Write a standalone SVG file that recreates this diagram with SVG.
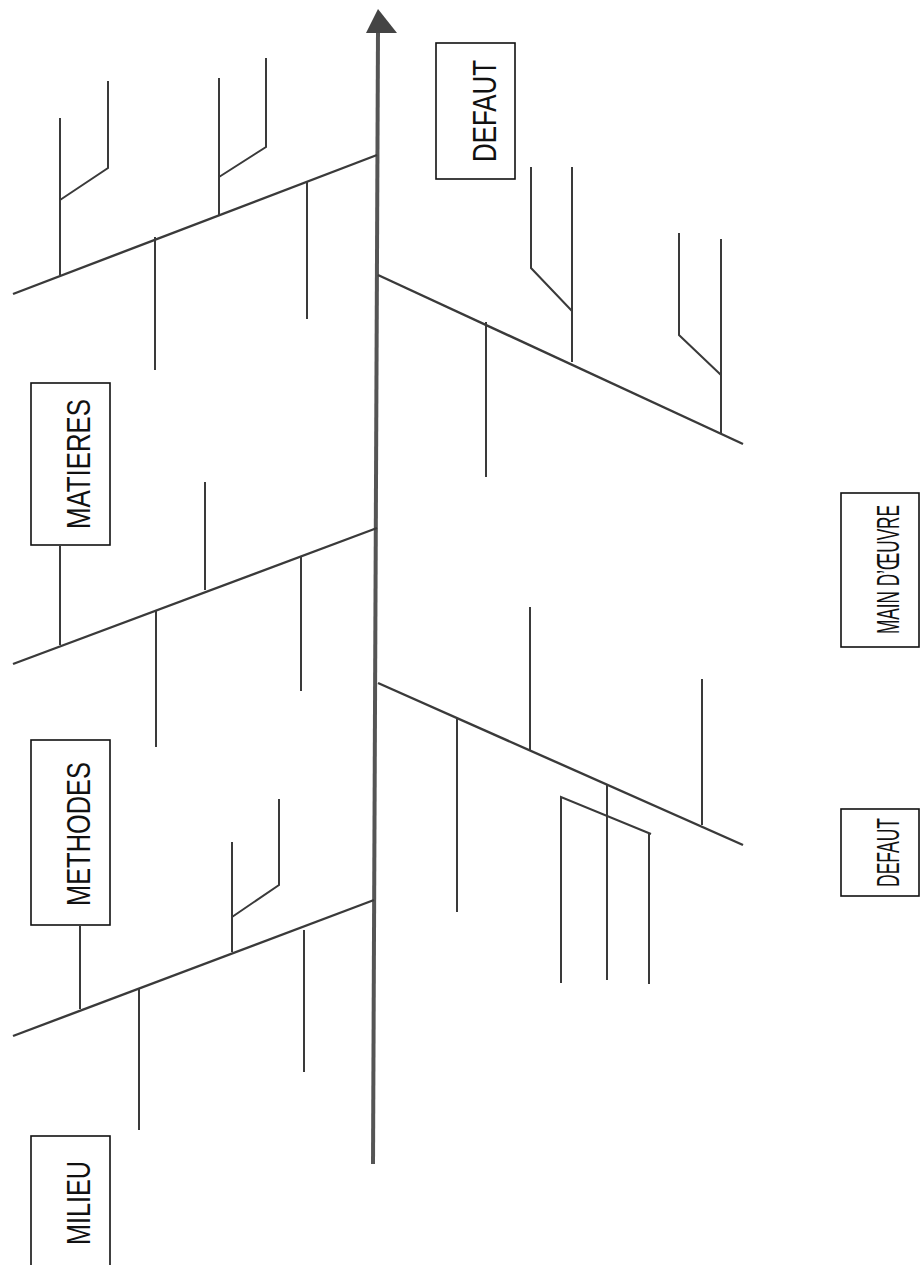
<svg xmlns="http://www.w3.org/2000/svg" width="920" height="1265" viewBox="0 0 920 1265">
<style>
.bone{stroke:#3a3a3a;stroke-width:2.4;fill:none;stroke-linecap:butt;stroke-linejoin:miter}
.sub{stroke:#3a3a3a;stroke-width:2;fill:none;stroke-linejoin:miter}
.box{fill:#fff;stroke:#111;stroke-width:1.6}
.lbl{font-family:"Liberation Sans",Arial,sans-serif;font-size:33px;fill:#111;text-anchor:middle}
.lblr{font-family:"Liberation Sans",Arial,sans-serif;font-size:32px;fill:#111;text-anchor:middle}
</style>
<rect width="920" height="1265" fill="#fff"/>
<g id="connectors">
  <line x1="378" y1="30" x2="373" y2="1164" stroke="#555" stroke-width="4"/>
  <polygon points="378,9 366,33 397,33" fill="#444"/>
  <line class="bone" x1="13" y1="294" x2="377" y2="155"/>
  <polyline class="sub" points="60,275 60,118"/>
  <polyline class="sub" points="60,200 108,168 108,81"/>
  <line class="sub" x1="155" y1="237" x2="155" y2="370"/>
  <polyline class="sub" points="219,215 219,78"/>
  <polyline class="sub" points="219,177 266,147 266,58"/>
  <line class="sub" x1="307" y1="182" x2="307" y2="319"/>
  <line class="bone" x1="13" y1="664" x2="377" y2="528"/>
  <line class="sub" x1="60" y1="546" x2="60" y2="645"/>
  <line class="sub" x1="156" y1="610" x2="156" y2="747"/>
  <line class="sub" x1="205" y1="590" x2="205" y2="482"/>
  <line class="sub" x1="301" y1="557" x2="301" y2="691"/>
  <line class="bone" x1="13" y1="1036" x2="374" y2="900"/>
  <line class="sub" x1="80" y1="926" x2="80" y2="1009"/>
  <line class="sub" x1="139" y1="988" x2="139" y2="1130"/>
  <polyline class="sub" points="232,952 232,842"/>
  <polyline class="sub" points="232,917 279,885 279,799"/>
  <line class="sub" x1="304" y1="930" x2="304" y2="1072"/>
  <line class="bone" x1="378" y1="275" x2="743" y2="444"/>
  <line class="sub" x1="486" y1="322" x2="486" y2="477"/>
  <line class="sub" x1="572" y1="362" x2="572" y2="167"/>
  <polyline class="sub" points="572,311 531,268 531,167"/>
  <line class="sub" x1="721" y1="433" x2="721" y2="239"/>
  <polyline class="sub" points="721,375 679,335 679,233"/>
  <line class="bone" x1="378" y1="683" x2="743" y2="845"/>
  <line class="sub" x1="457" y1="718" x2="457" y2="912"/>
  <line class="sub" x1="530" y1="751" x2="530" y2="607"/>
  <line class="sub" x1="607" y1="784" x2="607" y2="980"/>
  <line class="sub" x1="702" y1="825" x2="702" y2="679"/>
  <polyline class="sub" points="561,983 561,797 651,834"/>
  <line class="sub" x1="649" y1="834" x2="649" y2="984"/>
</g>
<g id="node-matieres">
  <rect class="box" x="31" y="383" width="79" height="162"/>
  <text class="lbl" transform="translate(90,464) rotate(-90)" textLength="130" lengthAdjust="spacingAndGlyphs">MATIERES</text>
</g>
<g id="node-methodes">
  <rect class="box" x="31" y="740" width="79" height="185"/>
  <text class="lbl" transform="translate(90,834) rotate(-90)" textLength="144" lengthAdjust="spacingAndGlyphs">METHODES</text>
</g>
<g id="node-milieu">
  <rect class="box" x="31" y="1136" width="79" height="140"/>
  <text class="lbl" transform="translate(90,1203) rotate(-90)" textLength="84" lengthAdjust="spacingAndGlyphs">MILIEU</text>
</g>
<g id="node-defaut-top">
  <rect class="box" x="436" y="43" width="79" height="136"/>
  <text class="lbl" transform="translate(496,111) rotate(-90)" textLength="102" lengthAdjust="spacingAndGlyphs">DEFAUT</text>
</g>
<g id="node-main-oeuvre">
  <rect class="box" x="841" y="493" width="78" height="154"/>
  <text class="lblr" transform="translate(899,569.5) rotate(-90)" textLength="129" lengthAdjust="spacingAndGlyphs">MAIN D’ŒUVRE</text>
</g>
<g id="node-defaut-bottom">
  <rect class="box" x="841" y="809" width="78" height="87"/>
  <text class="lblr" transform="translate(899,852.5) rotate(-90)" textLength="69" lengthAdjust="spacingAndGlyphs">DEFAUT</text>
</g>
</svg>
